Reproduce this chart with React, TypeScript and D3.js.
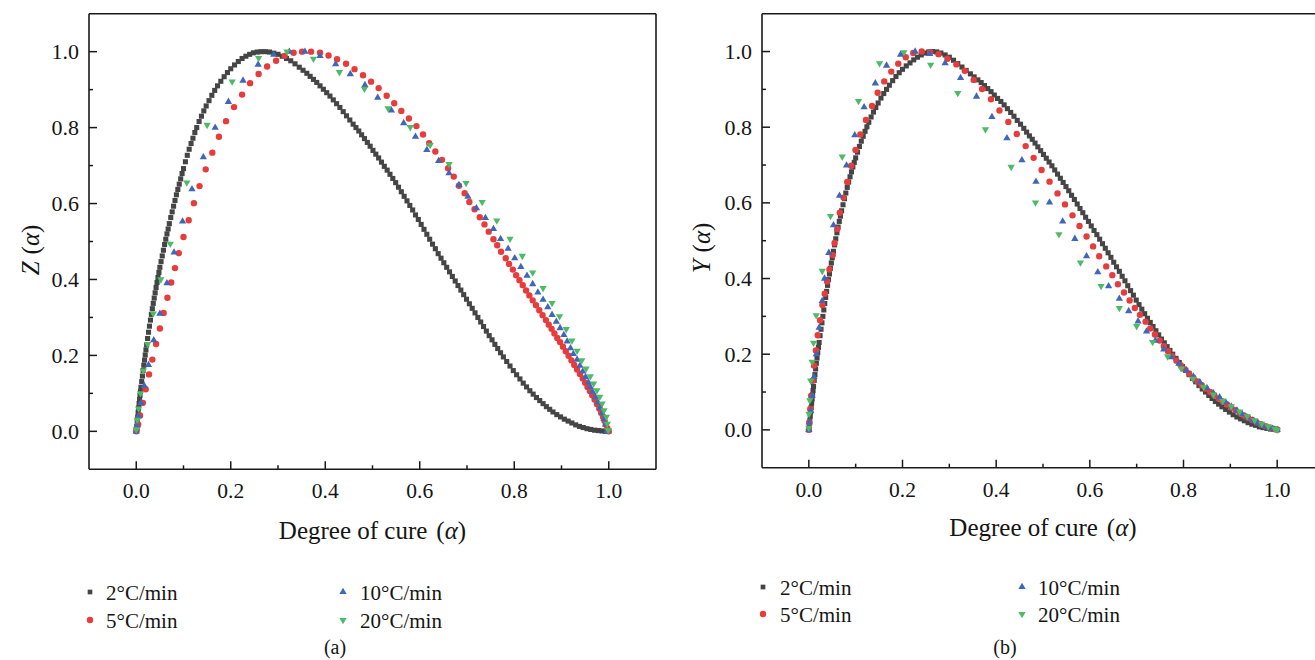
import React from 'react';
import * as d3 from 'd3';

// ---------- data ----------
const seriesNames = ['2°C/min', '5°C/min', '10°C/min', '20°C/min'];
const seriesColors = ['#454545', '#e83c3c', '#3f66b8', '#4dbb65'];

const xTicks = [0, 0.2, 0.4, 0.6, 0.8, 1.0];
const xMinor = [0.1, 0.3, 0.5, 0.7, 0.9];
const yTicks = [0, 0.2, 0.4, 0.6, 0.8, 1.0];
const yMinor = [0.1, 0.3, 0.5, 0.7, 0.9];

// 2°C/min (dense) – shared alpha grid
const alphaRise = [0, 0.001, 0.002, 0.003, 0.004, 0.005, 0.006, 0.007, 0.008, 0.009, 0.010, 0.0115, 0.013, 0.0145, 0.016, 0.0175, 0.019, 0.0205, 0.022, 0.024, 0.026, 0.028, 0.030, 0.032, 0.034, 0.036, 0.038, 0.040, 0.042, 0.044, 0.046, 0.048, 0.050, 0.0525, 0.055, 0.0575, 0.060, 0.0625, 0.065, 0.0675, 0.070, 0.073, 0.076, 0.079, 0.082, 0.085, 0.088, 0.091, 0.094, 0.097, 0.100, 0.104, 0.108, 0.112, 0.116, 0.120, 0.124, 0.128, 0.133, 0.138, 0.143, 0.148, 0.154, 0.160, 0.166, 0.172, 0.179, 0.186, 0.193, 0.200, 0.208, 0.216, 0.224, 0.232, 0.240, 0.248, 0.256, 0.264];
const alphaFall = [0.273, 0.282, 0.291, 0.300, 0.309, 0.318, 0.327, 0.336, 0.345, 0.353, 0.361, 0.368, 0.375, 0.382, 0.389, 0.396, 0.403, 0.410, 0.417, 0.424, 0.431, 0.438, 0.445, 0.452, 0.459, 0.465, 0.471, 0.477, 0.483, 0.489, 0.495, 0.501, 0.507, 0.513, 0.519, 0.525, 0.531, 0.537, 0.543, 0.549, 0.555, 0.561, 0.567, 0.573, 0.579, 0.585, 0.591, 0.597, 0.603, 0.609, 0.615, 0.621, 0.627, 0.633, 0.639, 0.645, 0.651, 0.657, 0.663, 0.669, 0.675, 0.681, 0.687, 0.693, 0.699, 0.705, 0.711, 0.717, 0.723, 0.729, 0.735, 0.741, 0.747, 0.753, 0.759, 0.765, 0.771, 0.777, 0.784, 0.791, 0.798, 0.805, 0.812, 0.819, 0.826, 0.833, 0.840, 0.847, 0.854, 0.861, 0.868, 0.875, 0.882, 0.890, 0.898, 0.906, 0.914, 0.922, 0.930, 0.938, 0.946, 0.954, 0.962, 0.970, 0.978, 0.986, 0.993, 1.0];

const zBlackRise = [0, 0.0125, 0.025, 0.0375, 0.05, 0.0615, 0.073, 0.084, 0.095, 0.1055, 0.116, 0.131, 0.1455, 0.16, 0.174, 0.1875, 0.201, 0.2145, 0.2275, 0.2445, 0.261, 0.277, 0.293, 0.308, 0.323, 0.337, 0.351, 0.365, 0.379, 0.392, 0.405, 0.4185, 0.432, 0.447, 0.462, 0.477, 0.492, 0.506, 0.52, 0.533, 0.547, 0.563, 0.578, 0.593, 0.608, 0.623, 0.637, 0.651, 0.665, 0.679, 0.692, 0.71, 0.727, 0.743, 0.758, 0.772, 0.787, 0.8, 0.816, 0.83, 0.844, 0.857, 0.871, 0.885, 0.898, 0.91, 0.922, 0.934, 0.945, 0.955, 0.965, 0.974, 0.982, 0.988, 0.993, 0.997, 0.999, 1.0];
const zBlackFall = [1.0, 0.999, 0.996, 0.993, 0.988, 0.982, 0.976, 0.968, 0.959, 0.951, 0.943, 0.935, 0.927, 0.919, 0.910, 0.901, 0.892, 0.883, 0.873, 0.863, 0.853, 0.842, 0.831, 0.820, 0.809, 0.800, 0.791, 0.781, 0.771, 0.761, 0.751, 0.740, 0.730, 0.720, 0.709, 0.698, 0.688, 0.677, 0.666, 0.655, 0.643, 0.631, 0.619, 0.607, 0.595, 0.583, 0.570, 0.558, 0.545, 0.532, 0.519, 0.506, 0.493, 0.481, 0.468, 0.456, 0.444, 0.432, 0.420, 0.408, 0.396, 0.384, 0.372, 0.360, 0.348, 0.336, 0.324, 0.312, 0.300, 0.288, 0.276, 0.264, 0.252, 0.241, 0.229, 0.218, 0.207, 0.196, 0.184, 0.172, 0.160, 0.149, 0.138, 0.127, 0.117, 0.107, 0.098, 0.089, 0.081, 0.073, 0.065, 0.058, 0.051, 0.044, 0.038, 0.032, 0.027, 0.022, 0.017, 0.013, 0.010, 0.007, 0.005, 0.003, 0.002, 0.001, 0.0, 0.0];

const yBlackRise = [0, 0.012, 0.024, 0.036, 0.048, 0.059, 0.071, 0.082, 0.093, 0.104, 0.115, 0.131, 0.146, 0.161, 0.176, 0.19, 0.204, 0.218, 0.231, 0.249, 0.266, 0.283, 0.3, 0.317, 0.334, 0.35, 0.366, 0.382, 0.397, 0.412, 0.427, 0.441, 0.455, 0.472, 0.489, 0.505, 0.521, 0.536, 0.551, 0.565, 0.579, 0.595, 0.611, 0.626, 0.641, 0.655, 0.669, 0.682, 0.695, 0.707, 0.719, 0.734, 0.749, 0.763, 0.776, 0.789, 0.801, 0.813, 0.827, 0.84, 0.852, 0.864, 0.877, 0.889, 0.9, 0.911, 0.923, 0.934, 0.944, 0.953, 0.962, 0.97, 0.978, 0.985, 0.991, 0.996, 0.999, 1.0];
const yBlackFall = [0.999, 0.996, 0.991, 0.985, 0.977, 0.968, 0.959, 0.950, 0.941, 0.933, 0.925, 0.918, 0.910, 0.902, 0.894, 0.885, 0.876, 0.868, 0.859, 0.849, 0.839, 0.829, 0.818, 0.808, 0.797, 0.787, 0.777, 0.768, 0.758, 0.748, 0.738, 0.728, 0.718, 0.708, 0.698, 0.687, 0.676, 0.665, 0.654, 0.643, 0.632, 0.620, 0.609, 0.597, 0.585, 0.574, 0.562, 0.551, 0.539, 0.527, 0.516, 0.504, 0.492, 0.480, 0.468, 0.456, 0.443, 0.431, 0.419, 0.406, 0.394, 0.381, 0.368, 0.356, 0.343, 0.331, 0.319, 0.307, 0.295, 0.284, 0.273, 0.262, 0.251, 0.240, 0.230, 0.220, 0.210, 0.200, 0.189, 0.178, 0.167, 0.157, 0.146, 0.136, 0.127, 0.117, 0.108, 0.100, 0.091, 0.083, 0.075, 0.068, 0.061, 0.054, 0.047, 0.040, 0.034, 0.029, 0.024, 0.019, 0.015, 0.012, 0.008, 0.006, 0.004, 0.002, 0.001, 0.0];

// (a) Z(alpha)
const zRed: [number, number][] = [[0, 0], [0.001, 0.004], [0.004, 0.018], [0.008, 0.042], [0.014, 0.075], [0.020, 0.111], [0.027, 0.150], [0.034, 0.189], [0.042, 0.230], [0.050, 0.271], [0.058, 0.312], [0.066, 0.352], [0.074, 0.392], [0.082, 0.430], [0.090, 0.469], [0.100, 0.512], [0.111, 0.556], [0.122, 0.601], [0.134, 0.646], [0.147, 0.690], [0.161, 0.734], [0.175, 0.776], [0.190, 0.817], [0.207, 0.854], [0.224, 0.887], [0.241, 0.917], [0.259, 0.941], [0.277, 0.961], [0.296, 0.976], [0.314, 0.989], [0.333, 0.997], [0.351, 1.0], [0.370, 1.0], [0.389, 0.997], [0.407, 0.990], [0.425, 0.980], [0.444, 0.968], [0.462, 0.954], [0.480, 0.938], [0.497, 0.921], [0.513, 0.904], [0.530, 0.884], [0.546, 0.864], [0.561, 0.844], [0.577, 0.824], [0.593, 0.804], [0.607, 0.782], [0.620, 0.759], [0.633, 0.737], [0.647, 0.715], [0.660, 0.693], [0.672, 0.671], [0.683, 0.647], [0.695, 0.627], [0.705, 0.604], [0.716, 0.585], [0.727, 0.564], [0.737, 0.545], [0.746, 0.526], [0.756, 0.506], [0.764, 0.490], [0.772, 0.473], [0.782, 0.456], [0.789, 0.441], [0.797, 0.426], [0.804, 0.411], [0.811, 0.398], [0.818, 0.385], [0.825, 0.371], [0.832, 0.358], [0.839, 0.345], [0.846, 0.332], [0.853, 0.319], [0.860, 0.306], [0.867, 0.293], [0.873, 0.281], [0.879, 0.270], [0.885, 0.258], [0.891, 0.246], [0.897, 0.235], [0.903, 0.223], [0.909, 0.211], [0.915, 0.199], [0.921, 0.187], [0.927, 0.175], [0.933, 0.163], [0.939, 0.151], [0.945, 0.139], [0.950, 0.128], [0.955, 0.117], [0.960, 0.106], [0.965, 0.095], [0.970, 0.084], [0.975, 0.072], [0.980, 0.060], [0.984, 0.049], [0.988, 0.038], [0.991, 0.028], [0.994, 0.018], [0.997, 0.008], [1.0, 0.0]];
const zBlue: [number, number][] = [[0, 0], [0.002, 0.015], [0.005, 0.04], [0.010, 0.075], [0.017, 0.12], [0.026, 0.175], [0.037, 0.24], [0.05, 0.31], [0.065, 0.39], [0.080, 0.471], [0.098, 0.553], [0.118, 0.638], [0.142, 0.722], [0.167, 0.80], [0.195, 0.868], [0.226, 0.924], [0.258, 0.966], [0.291, 0.992], [0.324, 1.0], [0.357, 1.0], [0.389, 0.989], [0.422, 0.967], [0.453, 0.941], [0.484, 0.912], [0.511, 0.879], [0.540, 0.845], [0.566, 0.812], [0.591, 0.776], [0.615, 0.741], [0.640, 0.712], [0.662, 0.68], [0.683, 0.649], [0.702, 0.618], [0.720, 0.588], [0.739, 0.562], [0.756, 0.533], [0.771, 0.507], [0.787, 0.481], [0.801, 0.456], [0.814, 0.433], [0.827, 0.410], [0.839, 0.388], [0.850, 0.366], [0.861, 0.347], [0.871, 0.327], [0.880, 0.307], [0.889, 0.289], [0.897, 0.272], [0.905, 0.254], [0.912, 0.237], [0.919, 0.219], [0.925, 0.204], [0.933, 0.189], [0.939, 0.173], [0.945, 0.158], [0.951, 0.143], [0.957, 0.129], [0.961, 0.117], [0.966, 0.104], [0.972, 0.090], [0.977, 0.076], [0.982, 0.062], [0.986, 0.048], [0.990, 0.033], [0.993, 0.018], [0.996, 0.0]];
const zGreen: [number, number][] = [[0, 0.005], [0.002, 0.03], [0.005, 0.06], [0.009, 0.10], [0.015, 0.16], [0.024, 0.23], [0.036, 0.31], [0.052, 0.40], [0.072, 0.494], [0.107, 0.655], [0.150, 0.807], [0.203, 0.921], [0.259, 0.983], [0.319, 1.0], [0.375, 0.981], [0.430, 0.946], [0.483, 0.902], [0.533, 0.851], [0.580, 0.801], [0.622, 0.754], [0.662, 0.704], [0.698, 0.654], [0.732, 0.604], [0.763, 0.555], [0.791, 0.507], [0.817, 0.462], [0.839, 0.418], [0.861, 0.377], [0.880, 0.338], [0.896, 0.303], [0.910, 0.269], [0.922, 0.239], [0.933, 0.212], [0.943, 0.187], [0.952, 0.165], [0.961, 0.145], [0.968, 0.126], [0.975, 0.108], [0.981, 0.091], [0.986, 0.073], [0.990, 0.055], [0.995, 0.038], [0.997, 0.020], [0.999, 0.003]];

// (b) Y(alpha)
const yRed: [number, number][] = [[0, 0], [0.001, 0.02], [0.003, 0.055], [0.005, 0.09], [0.008, 0.13], [0.011, 0.17], [0.015, 0.21], [0.019, 0.25], [0.024, 0.29], [0.029, 0.33], [0.034, 0.36], [0.039, 0.392], [0.044, 0.424], [0.051, 0.462], [0.055, 0.494], [0.0606, 0.531], [0.0662, 0.574], [0.0741, 0.614], [0.082, 0.655], [0.0905, 0.698], [0.0997, 0.740], [0.110, 0.781], [0.122, 0.819], [0.135, 0.856], [0.147, 0.891], [0.161, 0.921], [0.176, 0.947], [0.191, 0.968], [0.207, 0.985], [0.223, 0.996], [0.241, 1.0], [0.259, 0.998], [0.277, 0.993], [0.296, 0.981], [0.315, 0.966], [0.333, 0.949], [0.352, 0.925], [0.370, 0.901], [0.389, 0.874], [0.407, 0.844], [0.426, 0.814], [0.444, 0.782], [0.463, 0.750], [0.480, 0.719], [0.497, 0.687], [0.514, 0.656], [0.531, 0.625], [0.547, 0.596], [0.563, 0.567], [0.578, 0.539], [0.593, 0.511], [0.607, 0.485], [0.620, 0.459], [0.635, 0.432], [0.648, 0.409], [0.660, 0.385], [0.673, 0.363], [0.685, 0.342], [0.696, 0.322], [0.707, 0.304], [0.719, 0.286], [0.729, 0.268], [0.739, 0.252], [0.749, 0.236], [0.758, 0.221], [0.767, 0.208], [0.776, 0.195], [0.785, 0.183], [0.794, 0.171], [0.803, 0.160], [0.812, 0.149], [0.821, 0.138], [0.830, 0.128], [0.839, 0.118], [0.848, 0.109], [0.857, 0.100], [0.866, 0.091], [0.875, 0.083], [0.884, 0.075], [0.893, 0.067], [0.902, 0.059], [0.911, 0.052], [0.920, 0.045], [0.929, 0.038], [0.938, 0.032], [0.947, 0.026], [0.956, 0.020], [0.965, 0.015], [0.974, 0.010], [0.983, 0.006], [0.992, 0.003], [1.0, 0.001]];
const yBlue: [number, number][] = [[0, 0], [0.001, 0.02], [0.004, 0.05], [0.007, 0.09], [0.011, 0.14], [0.016, 0.20], [0.022, 0.27], [0.0286, 0.341], [0.0335, 0.400], [0.0427, 0.468], [0.0527, 0.541], [0.0655, 0.619], [0.0805, 0.699], [0.0982, 0.779], [0.118, 0.853], [0.142, 0.916], [0.166, 0.963], [0.196, 0.992], [0.227, 1.0], [0.258, 0.994], [0.291, 0.969], [0.324, 0.930], [0.358, 0.881], [0.391, 0.827], [0.423, 0.771], [0.455, 0.713], [0.485, 0.656], [0.514, 0.601], [0.542, 0.551], [0.568, 0.505], [0.593, 0.459], [0.617, 0.417], [0.640, 0.380], [0.663, 0.347], [0.683, 0.314], [0.703, 0.287], [0.721, 0.260], [0.740, 0.236], [0.758, 0.213], [0.774, 0.192], [0.790, 0.175], [0.806, 0.157], [0.821, 0.141], [0.835, 0.126], [0.850, 0.111], [0.864, 0.097], [0.877, 0.086], [0.890, 0.073], [0.902, 0.062], [0.914, 0.051], [0.925, 0.042], [0.936, 0.033], [0.948, 0.025], [0.958, 0.018], [0.969, 0.011], [0.980, 0.007], [0.990, 0.003], [1.0, 0.0]];
const yGreen: [number, number][] = [[0, 0.005], [0.0005, 0.042], [0.002, 0.078], [0.004, 0.13], [0.007, 0.18], [0.010, 0.23], [0.0158, 0.303], [0.0286, 0.420], [0.0463, 0.565], [0.0713, 0.722], [0.106, 0.869], [0.151, 0.969], [0.203, 0.998], [0.260, 0.965], [0.318, 0.890], [0.377, 0.794], [0.432, 0.695], [0.484, 0.601], [0.534, 0.517], [0.580, 0.442], [0.624, 0.380], [0.663, 0.322], [0.700, 0.274], [0.734, 0.232], [0.766, 0.194], [0.795, 0.162], [0.820, 0.135], [0.843, 0.113], [0.864, 0.093], [0.884, 0.076], [0.902, 0.062], [0.920, 0.048], [0.936, 0.036], [0.952, 0.025], [0.967, 0.016], [0.981, 0.009], [0.995, 0.003], [1.0, 0.0]];

// ---------- helpers ----------
const zip = (a: number[], b: number[]): [number, number][] => a.map((v, i) => [v, b[i]]);
const zBlack = [...zip(alphaRise, zBlackRise), ...zip(alphaFall, zBlackFall)];
const yBlack = [...zip(alphaRise, yBlackRise), ...zip(alphaFall, yBlackFall)];

const FONT = '"Liberation Serif", "Times New Roman", serif';
const TXT = '#151515';

const symSquare = d3.symbol().type(d3.symbolSquare).size(26)()!;
const symCircle = d3.symbol().type(d3.symbolCircle).size(32)()!;
const symTri = d3.symbol().type(d3.symbolTriangle).size(23)()!;
const legSquare = d3.symbol().type(d3.symbolSquare).size(22)()!;
const markerPaths = [symSquare, symCircle, symTri, symTri];
const legendPaths = [legSquare, symCircle, symTri, symTri];
const markerRot = [0, 0, 0, 180];

type PanelCfg = {
  x0: number; x1: number; yTop: number; yBot: number;
  series: [number, number][][];
  ylab: string; ylabX: number; ylabY: number;
  xlabY: number; rightBorder: boolean;
  legend: { c1: number; t1: number; c2: number; t2: number; r1: number; r2: number };
  caption: string; capX: number; capY: number;
};

function Marker({ i, x, y, leg }: { i: number; x: number; y: number; leg?: boolean }) {
  return (
    <path d={leg ? legendPaths[i] : markerPaths[i]} transform={`translate(${x},${y}) rotate(${markerRot[i]})`} fill={seriesColors[i]} />
  );
}

function Panel({ c }: { c: PanelCfg }) {
  const x = d3.scaleLinear().domain([-0.1, 1.1]).range([c.x0, c.x1]);
  const y = d3.scaleLinear().domain([-0.1, 1.1]).range([c.yBot, c.yTop]);
  const fmt = d3.format('.1f');
  const ax = '#1a1a1a';
  const xMid = (c.x0 + c.x1) / 2;
  const legPos = [
    [c.legend.c1, c.legend.t1, c.legend.r1],
    [c.legend.c1, c.legend.t1, c.legend.r2],
    [c.legend.c2, c.legend.t2, c.legend.r1],
    [c.legend.c2, c.legend.t2, c.legend.r2],
  ];
  return (
    <g>
      {c.series.map((s, si) => (
        <g key={si}>
          {s.map((d, k) => (
            <Marker key={k} i={si} x={x(d[0])} y={y(d[1])} />
          ))}
        </g>
      ))}
      <line x1={c.x0} x2={c.x1} y1={c.yBot} y2={c.yBot} stroke={ax} strokeWidth={1.6} />
      <line x1={c.x0} x2={c.x1} y1={c.yTop} y2={c.yTop} stroke={ax} strokeWidth={1.6} />
      <line x1={c.x0} x2={c.x0} y1={c.yTop} y2={c.yBot} stroke={ax} strokeWidth={1.6} />
      {c.rightBorder && <line x1={c.x1} x2={c.x1} y1={c.yTop} y2={c.yBot} stroke={ax} strokeWidth={1.6} />}
      {xTicks.map((t) => (
        <g key={'xt' + t}>
          <line x1={x(t)} x2={x(t)} y1={c.yBot} y2={c.yBot - 8} stroke={ax} strokeWidth={1.5} />
          <text x={x(t)} y={c.yBot + 29} textAnchor="middle" fontFamily={FONT} fontSize={21.5} fill={TXT}>{fmt(t)}</text>
        </g>
      ))}
      {xMinor.map((t) => (
        <line key={'xm' + t} x1={x(t)} x2={x(t)} y1={c.yBot} y2={c.yBot - 4} stroke={ax} strokeWidth={1.5} />
      ))}
      {yTicks.map((t) => (
        <g key={'yt' + t}>
          <line x1={c.x0} x2={c.x0 + 8} y1={y(t)} y2={y(t)} stroke={ax} strokeWidth={1.5} />
          <text x={c.x0 - 10} y={y(t) + 7.5} textAnchor="end" fontFamily={FONT} fontSize={22} fill={TXT}>{fmt(t)}</text>
        </g>
      ))}
      {yMinor.map((t) => (
        <line key={'ym' + t} x1={c.x0} x2={c.x0 + 4} y1={y(t)} y2={y(t)} stroke={ax} strokeWidth={1.5} />
      ))}
      <text x={xMid} y={c.xlabY} textAnchor="middle" fontFamily={FONT} fontSize={25} fill={TXT}>
        Degree of cure<tspan dx={9}>(</tspan><tspan fontStyle="italic">α</tspan>)
      </text>
      <text transform={`translate(${c.ylabX},${c.ylabY}) rotate(-90)`} textAnchor="middle" fontFamily={FONT} fontSize={25} fill={TXT}>
        <tspan fontStyle="italic">{c.ylab}</tspan>
        <tspan dx={7}>(</tspan><tspan fontStyle="italic">α</tspan>)
      </text>
      {seriesNames.map((n, i) => (
        <g key={n}>
          <Marker i={i} x={legPos[i][0]} y={legPos[i][2]} leg />
          <text x={legPos[i][1]} y={legPos[i][2] + 8} fontFamily={FONT} fontSize={21} fill={TXT}>{n}</text>
        </g>
      ))}
      <text x={c.capX} y={c.capY} textAnchor="middle" fontFamily={FONT} fontSize={20} fill={TXT}>{c.caption}</text>
    </g>
  );
}

const panelA: PanelCfg = {
  x0: 89, x1: 656, yTop: 13.7, yBot: 469.3,
  series: [zBlack, zRed, zBlue, zGreen],
  ylab: 'Z', ylabX: 39, ylabY: 250, xlabY: 539, rightBorder: true,
  legend: { c1: 90, t1: 106, c2: 343, t2: 360, r1: 592, r2: 620 },
  caption: '(a)', capX: 335, capY: 654,
};
const panelB: PanelCfg = {
  x0: 762, x1: 1324, yTop: 13.7, yBot: 467.7,
  series: [yBlack, yRed, yBlue, yGreen],
  ylab: 'Y', ylabX: 710, ylabY: 248, xlabY: 536, rightBorder: false,
  legend: { c1: 763, t1: 780, c2: 1022, t2: 1038, r1: 587, r2: 614 },
  caption: '(b)', capX: 1005, capY: 654,
};

export default function App() {
  return (
    <svg width={1315} height={660} style={{ position: 'absolute', left: 0, top: 0, background: '#fff' }}>
      <rect width={1315} height={660} fill="#fff" />
      <Panel c={panelA} />
      <Panel c={panelB} />
    </svg>
  );
}
